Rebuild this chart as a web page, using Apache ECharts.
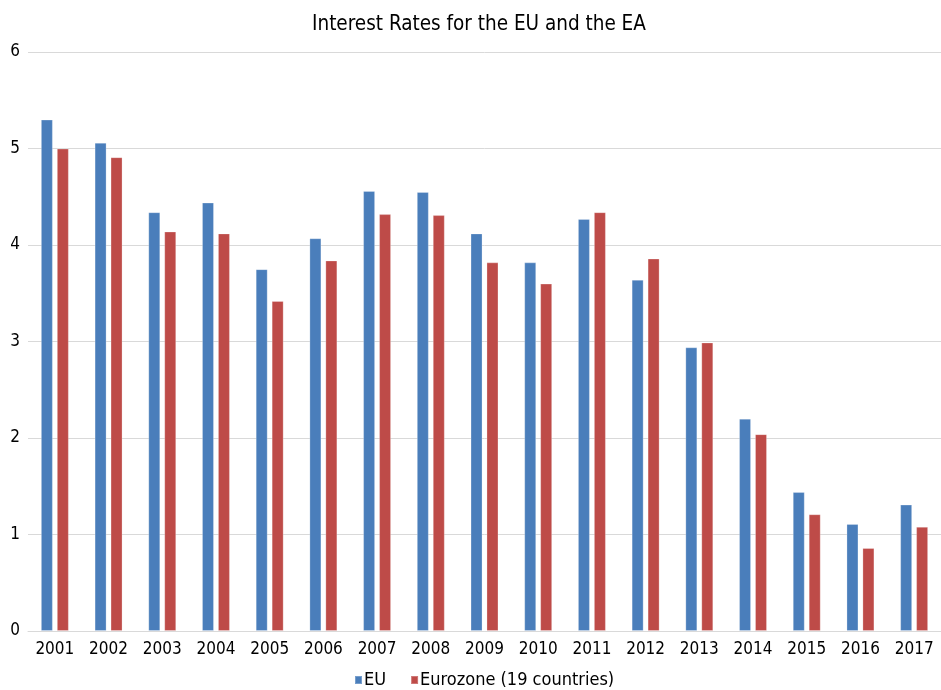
<!DOCTYPE html>
<html>
<head>
<meta charset="utf-8">
<script src="https://cdn.jsdelivr.net/npm/echarts@6/dist/echarts.min.js"></script>
<style>
  html, body { margin: 0; padding: 0; background: #fff; }
  #chart { width: 941px; height: 690px; }
</style>
</head>
<body>
<div id="chart"></div>
<script>
// Annual interest rates (%), 2001–2017
const years = ['2001','2002','2003','2004','2005','2006','2007','2008','2009',
               '2010','2011','2012','2013','2014','2015','2016','2017'];
const euRates = [5.30, 5.06, 4.34, 4.44, 3.75, 4.07, 4.56, 4.55, 4.12,
                 3.82, 4.27, 3.64, 2.94, 2.20, 1.44, 1.11, 1.31];
const eurozoneRates = [5.00, 4.91, 4.14, 4.12, 3.42, 3.84, 4.32, 4.31, 3.82,
                       3.60, 4.34, 3.86, 2.99, 2.04, 1.21, 0.86, 1.08];
const yTicks = [0, 1, 2, 3, 4, 5, 6];

const FONT = "'Liberation Sans Narrow', 'DejaVu Sans Condensed', 'Noto Sans', sans-serif";

const chart = echarts.init(document.getElementById('chart'), null, { renderer: 'canvas' });

chart.setOption({
  animation: false,
  backgroundColor: '#ffffff',
  textStyle: { fontFamily: FONT, color: '#000' },
  title: {
    text: 'Interest Rates for the EU and the EA',
    left: 312,
    top: 14,
    padding: 0,
    textStyle: { fontFamily: FONT, fontSize: 20.5, fontWeight: 'normal', color: '#000' }
  },
  legend: {
    top: 671,
    left: 354,
    padding: 0,
    itemWidth: 7,
    itemHeight: 8,
    itemGap: 24,
    icon: 'rect',
    textStyle: { fontFamily: FONT, fontSize: 18, color: '#000', padding: [0, 0, 0, -3] },
    data: ['EU', 'Eurozone (19 countries)']
  },
  grid: { left: 28, right: -2, top: 52, bottom: 59, containLabel: false },
  xAxis: {
    type: 'category',
    data: years,
    axisTick: { show: false },
    axisLine: { show: true, lineStyle: { color: '#d9d9d9', width: 1 } },
    axisLabel: { fontFamily: FONT, fontSize: 17, color: '#000', margin: 10 }
  },
  yAxis: {
    type: 'value',
    min: yTicks[0],
    max: yTicks[yTicks.length - 1],
    interval: 1,
    axisLine: { show: false },
    axisTick: { show: false },
    axisLabel: { fontFamily: FONT, fontSize: 17, color: '#000', margin: 8 },
    splitLine: { lineStyle: { color: '#d9d9d9', width: 1 } }
  },
  series: [
    {
      name: 'EU',
      type: 'bar',
      data: euRates,
      barWidth: 12,
      barGap: '33%',
      itemStyle: { color: '#4a7ebb', borderColor: 'rgba(255,255,255,0.25)', borderWidth: 1 }
    },
    {
      name: 'Eurozone (19 countries)',
      type: 'bar',
      data: eurozoneRates,
      barWidth: 12,
      itemStyle: { color: '#be4b48', borderColor: 'rgba(255,255,255,0.25)', borderWidth: 1 }
    }
  ]
});
</script>
</body>
</html>
